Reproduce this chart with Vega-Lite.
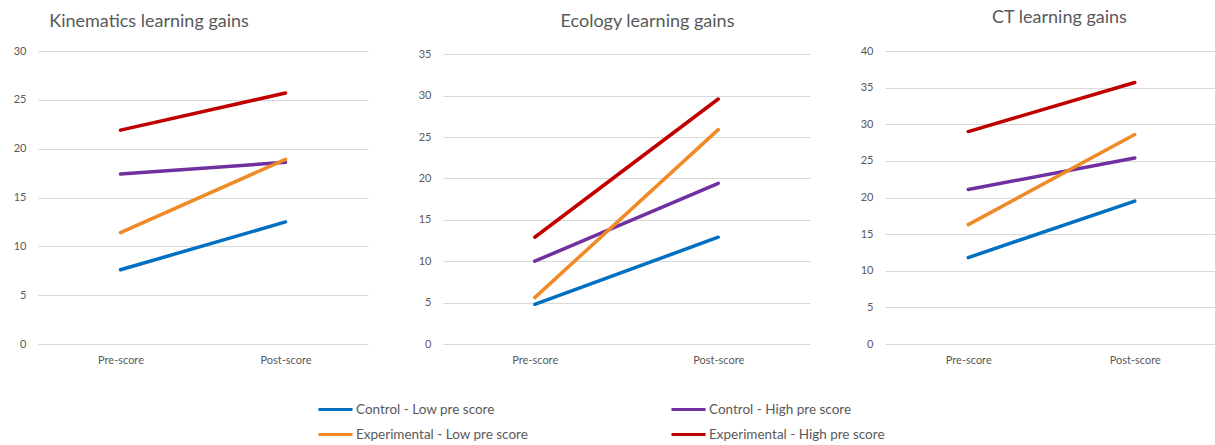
{
  "$schema": "https://vega.github.io/schema/vega-lite/v6.json",
  "padding": {"left": 13, "top": 9, "right": 0, "bottom": 0},
  "background": "white",
  "datasets": {
    "scores": [
      {"subject": "Kinematics", "time": "Pre-score", "group": "Control - Low pre score", "score": 7.6},
      {"subject": "Kinematics", "time": "Post-score", "group": "Control - Low pre score", "score": 12.5},
      {"subject": "Kinematics", "time": "Pre-score", "group": "Control - High pre score", "score": 17.4},
      {"subject": "Kinematics", "time": "Post-score", "group": "Control - High pre score", "score": 18.6},
      {"subject": "Kinematics", "time": "Pre-score", "group": "Experimental - Low pre score", "score": 11.4},
      {"subject": "Kinematics", "time": "Post-score", "group": "Experimental - Low pre score", "score": 18.9},
      {"subject": "Kinematics", "time": "Pre-score", "group": "Experimental - High pre score", "score": 21.9},
      {"subject": "Kinematics", "time": "Post-score", "group": "Experimental - High pre score", "score": 25.7},
      {"subject": "Ecology", "time": "Pre-score", "group": "Control - Low pre score", "score": 4.8},
      {"subject": "Ecology", "time": "Post-score", "group": "Control - Low pre score", "score": 12.9},
      {"subject": "Ecology", "time": "Pre-score", "group": "Control - High pre score", "score": 10.0},
      {"subject": "Ecology", "time": "Post-score", "group": "Control - High pre score", "score": 19.4},
      {"subject": "Ecology", "time": "Pre-score", "group": "Experimental - Low pre score", "score": 5.6},
      {"subject": "Ecology", "time": "Post-score", "group": "Experimental - Low pre score", "score": 25.9},
      {"subject": "Ecology", "time": "Pre-score", "group": "Experimental - High pre score", "score": 12.9},
      {"subject": "Ecology", "time": "Post-score", "group": "Experimental - High pre score", "score": 29.6},
      {"subject": "CT", "time": "Pre-score", "group": "Control - Low pre score", "score": 11.8},
      {"subject": "CT", "time": "Post-score", "group": "Control - Low pre score", "score": 19.5},
      {"subject": "CT", "time": "Pre-score", "group": "Control - High pre score", "score": 21.1},
      {"subject": "CT", "time": "Post-score", "group": "Control - High pre score", "score": 25.4},
      {"subject": "CT", "time": "Pre-score", "group": "Experimental - Low pre score", "score": 16.3},
      {"subject": "CT", "time": "Post-score", "group": "Experimental - Low pre score", "score": 28.6},
      {"subject": "CT", "time": "Pre-score", "group": "Experimental - High pre score", "score": 29.0},
      {"subject": "CT", "time": "Post-score", "group": "Experimental - High pre score", "score": 35.7}
    ]
  },
  "spacing": 50,
  "hconcat": [
    {
      "data": {"name": "scores"},
      "transform": [{"filter": "datum.subject === 'Kinematics'"}],
      "title": {"text": "Kinematics learning gains", "anchor": "start", "dx": 36, "offset": 14},
      "width": 330,
      "height": 293,
      "mark": {"type": "line", "strokeWidth": 3.5, "strokeCap": "round"},
      "encoding": {
        "x": {"field": "time", "type": "ordinal", "sort": ["Pre-score", "Post-score"], "scale": {"type": "point", "padding": 0.5}, "axis": {"title": null}},
        "y": {"field": "score", "type": "quantitative", "scale": {"domain": [0, 30]}, "axis": {"title": null, "values": [0, 5, 10, 15, 20, 25, 30]}},
        "color": {"field": "group", "type": "nominal", "scale": {"domain": ["Control - Low pre score", "Control - High pre score", "Experimental - Low pre score", "Experimental - High pre score"], "range": ["#0070C0", "#7030A0", "#F08A24", "#C00000"]}, "title": null}
      }
    },
    {
      "data": {"name": "scores"},
      "transform": [{"filter": "datum.subject === 'Ecology'"}],
      "title": {"text": "Ecology learning gains", "anchor": "middle", "dx": 21, "offset": 17},
      "width": 367,
      "height": 293,
      "mark": {"type": "line", "strokeWidth": 3.5, "strokeCap": "round"},
      "encoding": {
        "x": {"field": "time", "type": "ordinal", "sort": ["Pre-score", "Post-score"], "scale": {"type": "point", "padding": 0.5}, "axis": {"title": null}},
        "y": {"field": "score", "type": "quantitative", "scale": {"domain": [0, 35.4], "nice": false}, "axis": {"title": null, "values": [0, 5, 10, 15, 20, 25, 30, 35]}},
        "color": {"field": "group", "type": "nominal", "title": null}
      }
    },
    {
      "data": {"name": "scores"},
      "transform": [{"filter": "datum.subject === 'CT'"}],
      "title": {"text": "CT learning gains", "anchor": "middle", "dx": 8, "offset": 18},
      "width": 333,
      "height": 293,
      "mark": {"type": "line", "strokeWidth": 3.5, "strokeCap": "round"},
      "encoding": {
        "x": {"field": "time", "type": "ordinal", "sort": ["Pre-score", "Post-score"], "scale": {"type": "point", "padding": 0.5}, "axis": {"title": null}},
        "y": {"field": "score", "type": "quantitative", "scale": {"domain": [0, 40]}, "axis": {"title": null, "values": [0, 5, 10, 15, 20, 25, 30, 35, 40]}},
        "color": {"field": "group", "type": "nominal", "title": null}
      }
    }
  ],
  "resolve": {"scale": {"color": "shared", "y": "independent", "x": "independent"}},
  "config": {
    "font": "Lato",
    "view": {"stroke": null},
    "title": {"font": "Lato", "fontSize": 18, "fontWeight": "normal", "color": "#595959"},
    "axis": {
      "labelFont": "Lato",
      "labelFontSize": 11,
      "labelColor": "#595959",
      "ticks": false,
      "domain": false,
      "gridColor": "#D9D9D9",
      "gridWidth": 1
    },
    "axisX": {"labelAngle": 0, "labelPadding": 10, "grid": false},
    "axisY": {"labelPadding": 12, "grid": true},
    "legend": {
      "orient": "none",
      "legendX": 279,
      "legendY": 340,
      "direction": "horizontal",
      "columns": 2,
      "columnPadding": 136,
      "rowPadding": -7,
      "symbolType": "stroke",
      "symbolSize": 1156,
      "symbolStrokeWidth": 3,
      "labelFont": "Lato",
      "labelFontSize": 13.5,
      "labelColor": "#595959",
      "labelOffset": 2,
      "labelLimit": 400
    }
  }
}
